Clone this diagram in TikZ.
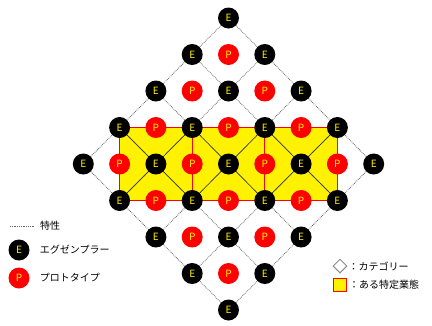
\documentclass[tikz,border=0pt]{standalone}
\usepackage{fontspec}
\setmainfont{Noto Sans CJK JP}
\usetikzlibrary{shapes.geometric,positioning}

\tikzset{
  exemplar/.style={circle,fill=black,inner sep=0pt,minimum size=21pt,text=yellow,font=\fontsize{10}{10}\selectfont},
  proto/.style={circle,fill=red,inner sep=0pt,minimum size=21pt,text=yellow,font=\fontsize{10}{10}\selectfont},
  trait/.style={black!60,densely dotted,line width=0.8pt},
  legend/.style={font=\fontsize{10}{10}\selectfont,inner sep=1pt},
}

\begin{document}
\begin{tikzpicture}[x=1pt,y=-1pt]
\useasboundingbox (0,0) rectangle (432,325);
% grid corners of the category diamond
\foreach \i in {0,...,4}
  \foreach \j in {0,...,4}
    \coordinate (v-\i-\j) at ({228.5+(\i-\j)*36.3},{18+(\i+\j)*36.5});
% area of one business type
\fill[yellow] (v-0-3) rectangle (v-4-1);
% trait lines
\foreach \k in {0,...,4} {
  \draw[trait] (v-\k-0) -- (v-\k-4);
  \draw[trait] (v-0-\k) -- (v-4-\k);
}
\begin{scope}
\clip (v-0-3) rectangle (v-4-1);
\foreach \k in {0,...,4} {
  \draw[black!85,line width=0.5pt] (v-\k-0) -- (v-\k-4);
  \draw[black!85,line width=0.5pt] (v-0-\k) -- (v-4-\k);
}
\end{scope}
\draw[red,line width=1.3pt] (v-0-3) rectangle (v-4-1);
\draw[red,line width=1.3pt] (v-1-2) -- (v-2-3) (v-2-1) -- (v-3-2);
% exemplars and prototypes
\foreach \i in {0,...,4}
  \foreach \j in {0,...,4}
    \node[exemplar] (e-\i-\j) at (v-\i-\j) {E};
\foreach \i in {0,...,3}
  \foreach \j in {0,...,3}
    \node[proto] (p-\i-\j) at ({228.5+(\i-\j)*36.3},{18+(\i+\j+1)*36.5}) {P};

% legend, left
\coordinate (lt-a) at (10,226);
\coordinate (lt-b) at (34,226);
\draw[trait] (lt-a) -- (lt-b);
\node[legend,anchor=west] (lt) at (39,226) {特性};
\node[exemplar] (le) at (19,250) {E};
\node[legend,right=9pt of le] {エグゼンプラー};
\node[proto] (lp) at (19,278) {P};
\node[legend,right=9pt of lp] {プロトタイプ};
% legend, right
\node[diamond,draw=black!45,fill=white,line width=1pt,minimum size=14pt,inner sep=0pt] (lc) at (340,266) {};
\node[legend,right=0pt of lc] {：カテゴリー};
\node[draw=red,fill=yellow,line width=1pt,minimum size=13pt,inner sep=0pt] (lb) at (340,285) {};
\node[legend,right=1pt of lb] {：ある特定業態};
\end{tikzpicture}
\end{document}
